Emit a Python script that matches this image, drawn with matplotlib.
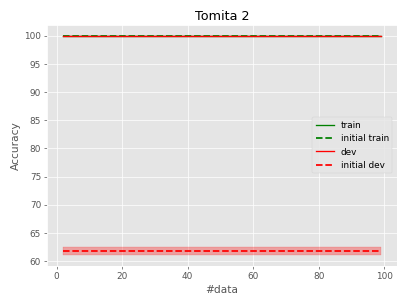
import numpy as np
import matplotlib
matplotlib.use('Agg')
import matplotlib.pyplot as plt

plt.style.use('ggplot')

# 数据
n_data = list(range(2, 100))
train_acc = [100.0] * len(n_data)
init_train_acc = [100.0] * len(n_data)
dev_acc = [100.0] * len(n_data)
dev_std = [0.0] * len(n_data)
init_dev_acc = [61.8] * len(n_data)
init_dev_std = [0.73] * len(n_data)

x = np.array(n_data)
fig = plt.figure(figsize=(6.4, 4.8), dpi=63.6)
plt.subplots_adjust(left=0.116, right=0.975, top=0.918, bottom=0.128)
plt.plot(x, train_acc, color='green', label='train')
plt.plot(x, init_train_acc, color='green', linestyle='--', linewidth=2, label='initial train')
plt.plot(x, dev_acc, color='red', linewidth=1.5, label='dev')
plt.fill_between(x, np.array(dev_acc) - np.array(dev_std), np.array(dev_acc) + np.array(dev_std),
                 color='red', alpha=0.3)
lo = np.array(init_dev_acc) - np.array(init_dev_std)
hi = np.array(init_dev_acc) + np.array(init_dev_std)
plt.fill_between(x, lo, hi, color='red', alpha=0.3)
plt.plot(x, init_dev_acc, color='red', linestyle='--', linewidth=2, label='initial dev')

plt.title('Tomita 2')
plt.xlabel('#data')
plt.ylabel('Accuracy')
plt.legend(loc='center right')
plt.savefig('out.png', dpi=63.6)
